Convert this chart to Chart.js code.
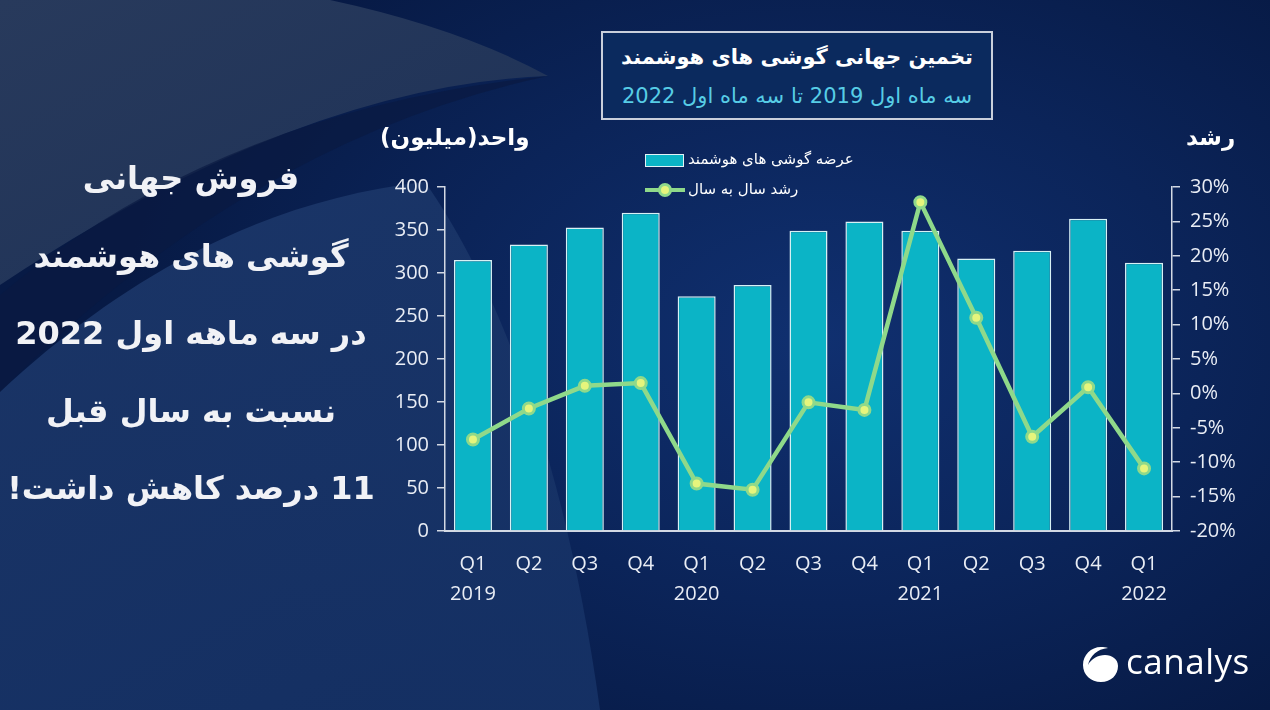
<!DOCTYPE html>
<html lang="fa">
<head>
<meta charset="utf-8">
<script src="https://cdn.jsdelivr.net/npm/chart.js@4.4.0/dist/chart.umd.min.js"></script>
<style>
  html, body { margin: 0; padding: 0; }
  body { width: 1270px; height: 710px; overflow: hidden; position: relative;
         background: radial-gradient(ellipse 700px 480px at 820px 340px, #103070 0%, #0b2459 55%, #071a45 100%); }
  #bg { position: absolute; left: 0; top: 0; }
  #wrap { position: absolute; left: 0; top: 0; width: 1270px; height: 710px; }
  .fa { font-family: "DejaVu Sans", sans-serif; direction: rtl; position: absolute; color: #ffffff; white-space: nowrap; }
  #side { left: 0; width: 382px; top: 140px; text-align: center; font-weight: bold; font-size: 32px; line-height: 77.5px; color: #f1f2f6; }
  #titleBox { position: absolute; left: 601px; top: 31px; width: 388px; height: 85px; border: 2px solid #c9cfdb; background: #0b2a5e; }
  #t1 { left: 0; right: 0; top: 12px; text-align: center; font-weight: bold; font-size: 21px; }
  #t2 { left: 0; right: 0; top: 51px; text-align: center; font-size: 21px; color: #57cde6; }
  #yl { left: 380px; top: 124px; font-weight: bold; font-size: 23px; }
  #yr { left: 1186px; top: 124px; font-weight: bold; font-size: 23px; }
  .lg { font-size: 15px; left: 688px; color: #ffffff; }
  #lg1 { top: 150px; }
  #lg2 { top: 180px; }
  #sw1 { position: absolute; left: 645px; top: 154px; width: 37px; height: 11px; background: #0bb4c6; border: 1.5px solid #e2f3f6; }
  #logo { position: absolute; left: 1126px; top: 637px; font-family: "Open Sans", sans-serif; font-size: 35px; color: #ffffff; letter-spacing: 0.5px; }
</style>
</head>
<body>
<svg id="bg" width="1270" height="710">
  <defs>
    <linearGradient id="g1" x1="0" y1="0" x2="1" y2="1">
      <stop offset="0" stop-color="#283a5c"/>
      <stop offset="1" stop-color="#1d3157"/>
    </linearGradient>
    <linearGradient id="g2" x1="0" y1="0" x2="0.6" y2="1">
      <stop offset="0" stop-color="#1d386a"/>
      <stop offset="1" stop-color="#163266"/>
    </linearGradient>
  </defs>
  <path d="M0,0 L330,0 Q460,28 548,76 Q300,85 0,285 Z" fill="url(#g1)"/>
  <path d="M0,295 Q220,110 548,76 Q250,140 0,392 Z" fill="#0a1a42" opacity="0.7"/>
  <path d="M0,392 C120,280 260,200 425,182 C480,260 560,420 600,710 L0,710 Z" fill="url(#g2)" opacity="0.9"/>
</svg>

<div id="wrap"><canvas id="chart" width="1270" height="710"></canvas></div>

<div id="side" class="fa">فروش جهانی<br>گوشی های هوشمند<br>در سه ماهه اول 2022<br>نسبت به سال قبل<br>11 درصد کاهش داشت!</div>

<div id="titleBox">
  <div id="t1" class="fa">تخمین جهانی گوشی های هوشمند</div>
  <div id="t2" class="fa">سه ماه اول 2019 تا سه ماه اول 2022</div>
</div>

<div id="yl" class="fa">واحد(میلیون)</div>
<div id="yr" class="fa">رشد</div>

<div id="sw1"></div>
<div id="lg1" class="fa lg">عرضه گوشی های هوشمند</div>
<svg style="position:absolute;left:643px;top:181px" width="44" height="18">
  <line x1="2" y1="9" x2="42" y2="9" stroke="#8fd98a" stroke-width="4"/>
  <circle cx="22" cy="9" r="5.5" fill="#e6f57c" stroke="#8fd98a" stroke-width="3"/>
</svg>
<div id="lg2" class="fa lg">رشد سال به سال</div>

<svg style="position:absolute;left:1081px;top:644px" width="40" height="40" viewBox="0 0 40 40">
  <path d="M20,3 C10,3 2,11 2,21 C2,31 10,38 20,38 C30,38 37,31 37,22 C37,15 31,11 24,11 C17,11 10,15 7,21 C9,12 16,5 27,4 C25,3.3 22.5,3 20,3 Z" fill="#ffffff"/>
</svg>
<div id="logo">canalys</div>

<script>
const quarters = ['Q1', 'Q2', 'Q3', 'Q4', 'Q1', 'Q2', 'Q3', 'Q4', 'Q1', 'Q2', 'Q3', 'Q4', 'Q1'];
const years = ['2019', '', '', '', '2020', '', '', '', '2021', '', '', '', '2022'];
const shipments = [315, 333, 353, 370, 273, 286, 349, 360, 349, 317, 326, 363, 312];
const growth = [-6.7, -2.2, 1.1, 1.5, -13.1, -14.0, -1.3, -2.4, 27.8, 11.0, -6.3, 0.9, -10.9];
const leftTicks = [0, 50, 100, 150, 200, 250, 300, 350, 400];
const rightTicks = [-20, -15, -10, -5, 0, 5, 10, 15, 20, 25, 30];

const labels = quarters.map((q, i) => years[i] ? [q, years[i]] : q);
const tickFont = { family: 'Open Sans', size: 20 };
const xFont = { family: 'Open Sans', size: 20, lineHeight: 1.5 };
const axisColor = '#d3d9e4';

const ctx = document.getElementById('chart');
new Chart(ctx, {
    data: {
        labels: labels,
        datasets: [{
            type: 'line',
            label: 'رشد سال به سال',
            data: growth,
            yAxisID: 'y1',
            order: 0,
            borderColor: '#8fd98a',
            borderWidth: 4.5,
            tension: 0,
            pointRadius: 5.5,
            pointBorderWidth: 3,
            pointBackgroundColor: '#e6f57c',
            pointBorderColor: '#8fd98a'
        }, {
            type: 'bar',
            label: 'عرضه گوشی های هوشمند',
            data: shipments,
            yAxisID: 'y',
            order: 1,
            backgroundColor: '#0bb4c6',
            borderColor: '#d8f1f5',
            borderWidth: 1.5,
            barPercentage: 0.68,
            categoryPercentage: 1.0
        }]
    },
    options: {
        responsive: false,
        animation: false,
        devicePixelRatio: 1,
        layout: { padding: { left: 374, right: 10, top: 187, bottom: 99 } },
        plugins: { legend: { display: false }, tooltip: { enabled: false } },
        scales: {
            x: {
                grid: { display: false },
                border: { display: true, color: axisColor, width: 2 },
                ticks: { color: '#e9edf5', font: xFont, padding: 10, maxRotation: 0, autoSkip: false },
                afterFit: s => { s.height = 80; }
            },
            y: {
                position: 'left',
                min: 0, max: 400,
                afterBuildTicks: s => { s.ticks = leftTicks.map(v => ({ value: v })); },
                grid: { drawOnChartArea: false, drawTicks: true, tickLength: 8, color: axisColor, lineWidth: 1.5 },
                border: { display: true, color: axisColor, width: 1.5 },
                ticks: { color: '#e9edf5', font: tickFont, padding: 8 },
                afterFit: s => { s.width = 71; }
            },
            y1: {
                position: 'right',
                min: -20, max: 30,
                afterBuildTicks: s => { s.ticks = rightTicks.map(v => ({ value: v })); },
                grid: { drawOnChartArea: false, drawTicks: true, tickLength: 8, color: axisColor, lineWidth: 1.5 },
                border: { display: true, color: axisColor, width: 1.5 },
                ticks: { color: '#e9edf5', font: tickFont, padding: 10, callback: v => v + '%' },
                afterFit: s => { s.width = 88; }
            }
        }
    }
});
</script>
</body>
</html>
